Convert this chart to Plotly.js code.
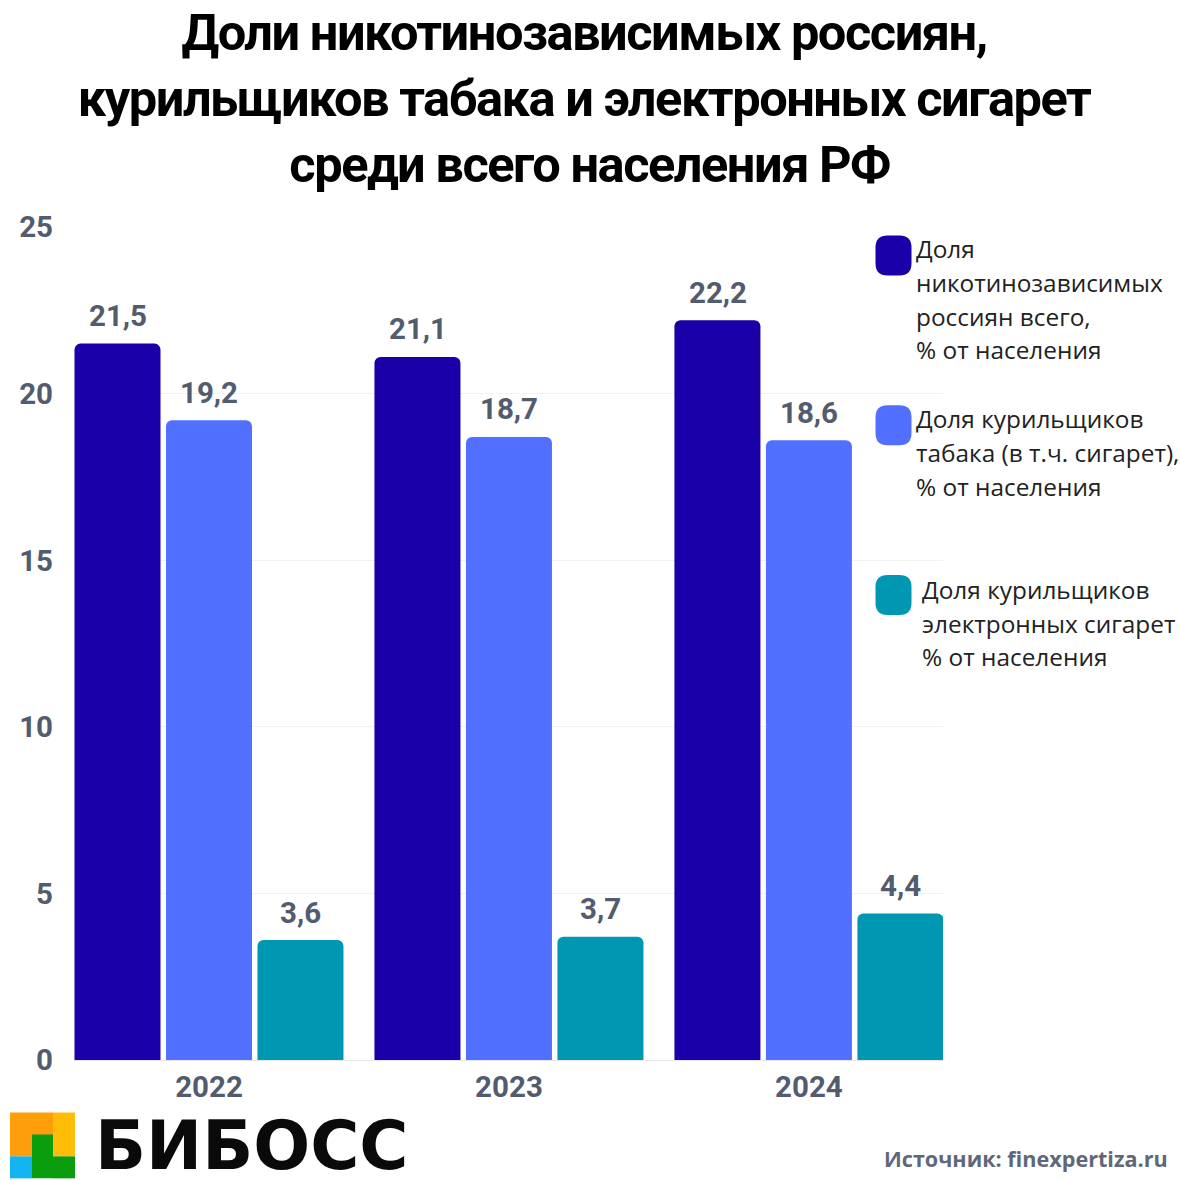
<!DOCTYPE html>
<html><head><meta charset="utf-8">
<script src="https://cdn.plot.ly/plotly-3.0.1.min.js"></script>
<style>
html,body{margin:0;padding:0;background:#fff}
.gtitle{letter-spacing:-1.5px}
</style></head><body><div id="chart" style="width:1180px;height:1180px"></div>
<script>
const years = ['2022','2023','2024'];
const seriesNames = ['Доля никотинозависимых россиян всего, % от населения','Доля курильщиков табака (в т.ч. сигарет), % от населения','Доля курильщиков электронных сигарет % от населения'];
const nicotine = [21.5,21.1,22.2];
const tobacco = [19.2,18.7,18.6];
const ecig = [3.6,3.7,4.4];
const colors = ['#1a00a8','#5270ff','#0097b2'];
const yTicks = [0,5,10,15,20,25];
const legendLines = [
  ['Доля','никотинозависимых','россиян всего,','% от населения'],
  ['Доля курильщиков','табака (в т.ч. сигарет),','% от населения'],
  ['Доля курильщиков','электронных сигарет','% от населения']
];

const L=74,R=943,T=226.5,B=1060.5,W=R-L,H=B-T;
const px=x=>(x-L)/W, py=y=>(B-y)/H;
const traces=[nicotine,tobacco,ecig].map((v,i)=>({type:'bar',name:seriesNames[i],x:years,y:v,
  marker:{color:colors[i]},showlegend:false,hoverinfo:'y'}));

const rrect=(x0,y0,x1,y1,r)=>{
  const X=a=>px(a),Y=a=>py(a);
  return `M${X(x0+r)},${Y(y0)} L${X(x1-r)},${Y(y0)} Q${X(x1)},${Y(y0)} ${X(x1)},${Y(y0+r)} L${X(x1)},${Y(y1-r)} Q${X(x1)},${Y(y1)} ${X(x1-r)},${Y(y1)} L${X(x0+r)},${Y(y1)} Q${X(x0)},${Y(y1)} ${X(x0)},${Y(y1-r)} L${X(x0)},${Y(y0+r)} Q${X(x0)},${Y(y0)} ${X(x0+r)},${Y(y0)} Z`;
};
const box=(x0,y0,x1,y1,c)=>({type:'rect',xref:'paper',yref:'paper',x0:px(x0),x1:px(x1),y0:py(y1),y1:py(y0),fillcolor:c,line:{width:0}});
const swatch=(y0,c)=>({type:'path',xref:'paper',yref:'paper',path:rrect(875.5,y0,911.5,y0+40,12),fillcolor:c,line:{width:0}});
const shapes=[swatch(235,colors[0]),swatch(405,colors[1]),swatch(575,colors[2]),
  box(10,1113,53,1157,'#ff9d0a'),box(53,1113,75,1157,'#ffbd0a'),box(10,1157,32,1179,'#12b5f0'),
  box(32,1135,53,1179,'#0a9e0f'),box(53,1157,75,1179,'#0a9e0f')];

const annotations=[];
[nicotine,tobacco,ecig].forEach((v,i)=>v.forEach((d,j)=>annotations.push({
  x:j,y:d,xref:'x',yref:'y',text:d.toFixed(1).replace('.',','),showarrow:false,
  xshift:(i-1)*91.5+0.5,yanchor:'bottom',yshift:8.5,
  font:{family:'Roboto',size:29.5,color:'#525c6e',weight:700}})));
const note=(x,y,text,font,xa)=>({xref:'paper',yref:'paper',x:px(x),y:py(y),text,showarrow:false,xanchor:xa||'left',yanchor:'middle',align:'left',font,borderpad:0});
const legendFont={family:'Open Sans',size:24.4,color:'#222222'};
const legendPos=[[914.5,248.5,33.7],[914.5,418.5,34],[920.5,589.5,33.5]];
legendLines.forEach((lines,i)=>lines.forEach((t,k)=>annotations.push(
  note(legendPos[i][0],legendPos[i][1]+k*legendPos[i][2],t,legendFont))));
annotations.push(
  Object.assign(note(93.5,1147,'БИБОСС',{family:'DejaVu Sans',size:67,color:'#0a0a0a',weight:700}),{height:62,valign:'middle'}),
  note(1168.5,1159,'Источник: finexpertiza.ru',{family:'Open Sans',size:21.6,color:'#5f6878',weight:700},'right')
);

const layout={width:1180,height:1180,paper_bgcolor:'#fff',plot_bgcolor:'#fff',
  margin:{l:L,r:1180-R,t:T,b:1180-B,pad:0},
  title:{text:'Доли никотинозависимых россиян,<br>курильщиков табака и электронных сигарет<br>\u00A0среди всего населения РФ',
    font:{family:'Roboto',size:50.6,color:'#000',weight:700},x:0.495,xanchor:'center',xref:'container',y:0.9576,yanchor:'top'},
  barmode:'group',bargap:0.085,bargroupgap:0.06,barcornerradius:6,
  xaxis:{type:'category',range:[-0.45,2.447],showgrid:false,zeroline:false,showline:false,ticks:'',
    tickfont:{family:'Roboto',size:29.5,color:'#525c6e',weight:700},ticklabelstandoff:6},
  yaxis:{range:[0,25],tickvals:yTicks,gridcolor:'#f2f2f2',gridwidth:1,zeroline:true,zerolinecolor:'#e6e6e6',zerolinewidth:1,showline:false,ticks:'',
    tickfont:{family:'Roboto',size:29.5,color:'#525c6e',weight:700},ticklabelstandoff:20},
  shapes,annotations,showlegend:false};
Plotly.newPlot('chart',traces,layout,{displayModeBar:false,responsive:false});
</script></body></html>
